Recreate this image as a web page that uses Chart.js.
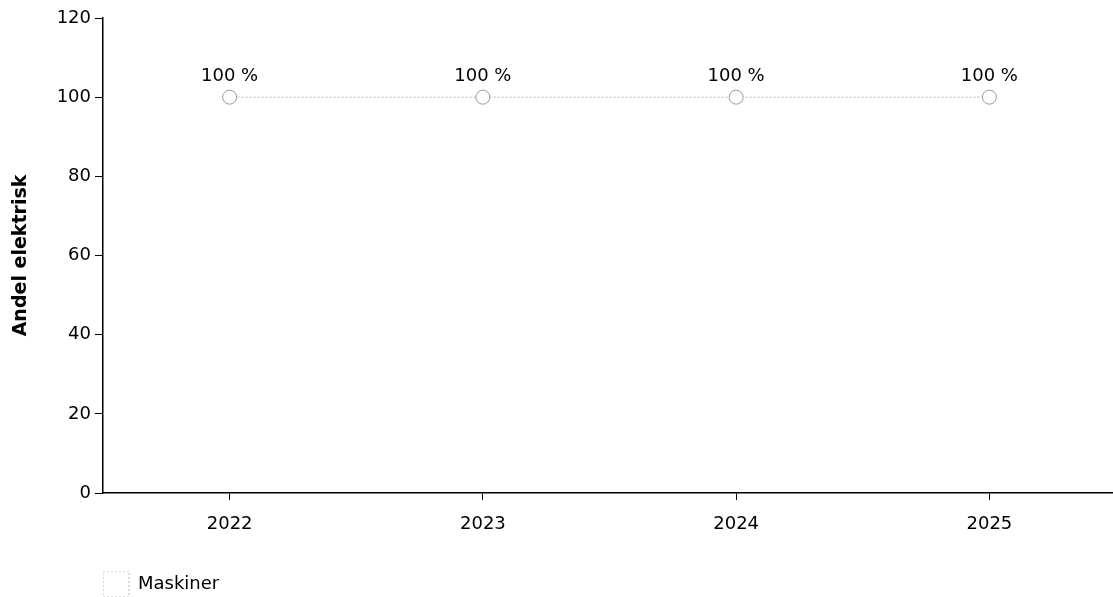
<!DOCTYPE html>
<html>
<head>
<meta charset="utf-8">
<script src="https://cdn.jsdelivr.net/npm/chart.js@4"></script>
<style>
	html, body { margin: 0; padding: 0; background: #fff; overflow: hidden; }
	#wrap { width: 1124px; height: 597px; }
</style>
</head>
<body>
<div id="wrap"><canvas id="chart"></canvas></div>
<script>
const years = ['2022', '2023', '2024', '2025'];
const maskiner = [100, 100, 100, 100];
const yTicks = [0, 20, 40, 60, 80, 100, 120];

// labels over each point
const pointLabels = {
	id: 'pointLabels',
	afterDatasetsDraw(chart) {
		const ctx = chart.ctx;
		ctx.save();
		ctx.font = '18px "DejaVu Sans"';
		ctx.fillStyle = '#000';
		ctx.textAlign = 'center';
		ctx.textBaseline = 'bottom';
		chart.getDatasetMeta(0).data.forEach(function (pt, i) {
			ctx.fillText(maskiner[i] + ' %', pt.x, pt.y - 12);
		});
		ctx.restore();
	}
};

Chart.defaults.font.family = '"DejaVu Sans"';
Chart.defaults.font.size = 18;
Chart.defaults.color = '#000';

var ctx = document.getElementById('chart').getContext('2d');
var myChart = new Chart(ctx, {
	type: 'line',
	data: {
		labels: years,
		datasets: [{
			label: 'Maskiner',
			data: maskiner,
			borderColor: '#d0d0d0',
			backgroundColor: '#fff',
			borderWidth: 1.5,
			borderDash: [2, 2],
			pointRadius: 7,
			pointBorderColor: '#999',
			pointBorderWidth: 1,
			pointBackgroundColor: '#fff'
		}]
	},
	options: {
		responsive: true,
		maintainAspectRatio: false,
		animation: false,
		layout: { padding: { top: 18, right: 0, left: 10, bottom: -10 } },
		plugins: {
			legend: {
				position: 'bottom',
				align: 'start',
				fullSize: false,
				labels: {
					boxWidth: 26,
					boxHeight: 26,
					padding: 0,
					font: { size: 18 }
				}
			},
			tooltip: { enabled: false }
		},
		scales: {
			x: {
				offset: true,
				grid: { drawOnChartArea: false, drawTicks: true, tickLength: 7, tickColor: '#000' },
				border: { color: '#000', width: 1.5 },
				ticks: { padding: 14, font: { size: 18 } },
				afterFit(s) { s.height = 78; }
			},
			y: {
				min: 0,
				max: 120,
				afterBuildTicks(s) { s.ticks = yTicks.map(v => ({ value: v })); },
				grid: { drawOnChartArea: false, drawTicks: true, tickLength: 8, tickColor: '#000' },
				border: { color: '#000', width: 1.5 },
				ticks: { padding: 4, font: { size: 18 } },
				title: { display: true, text: 'Andel elektrisk', font: { size: 19, weight: 'bold' }, padding: { top: 0, bottom: 20 } },
				afterFit(s) { s.width = 93; }
			}
		}
	},
	plugins: [pointLabels]
});
</script>
</body>
</html>
